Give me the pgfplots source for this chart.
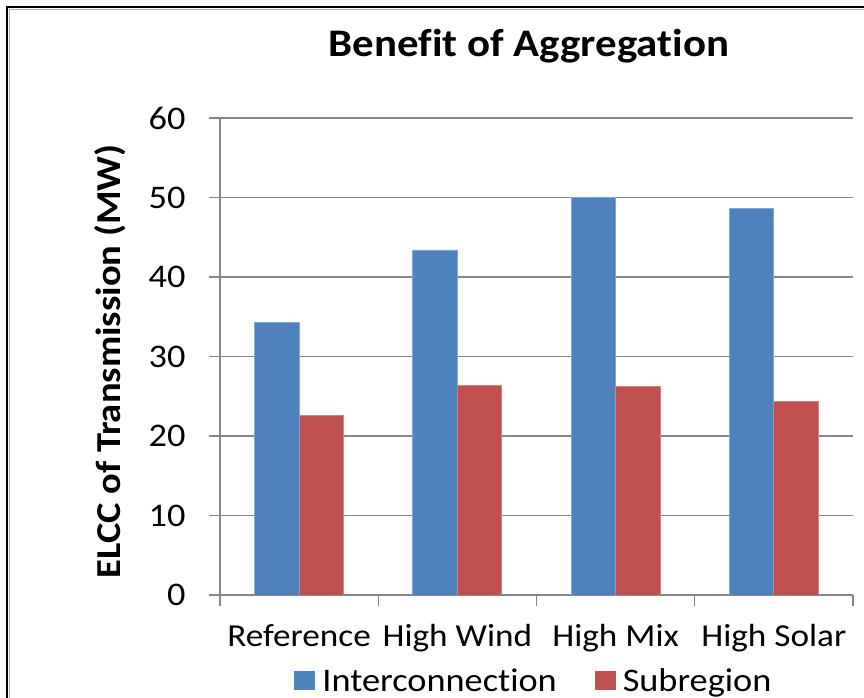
\documentclass[border=0pt]{standalone}
\usepackage{fontspec}
\setmainfont{Carlito}[Ligatures=NoCommon, FakeStretch=1.1]
\usepackage{pgfplots}
\pgfplotsset{compat=1.18}
\definecolor{ser1}{HTML}{4F81BD}
\definecolor{ser2}{HTML}{C0504D}
\definecolor{gridc}{HTML}{868686}
\begin{document}
\begin{tikzpicture}
\useasboundingbox (0,0) rectangle (864bp,698bp);
\fill[white] (0,0) rectangle (864bp,698bp);
\draw[black, line width=2bp] (7bp,-50bp) rectangle (950bp,691bp);
\draw[black!30, line width=1.5bp] (9.5bp,-50bp) rectangle (950bp,688.5bp);
\node[font=\fontsize{39bp}{47bp}\selectfont\bfseries, anchor=base] at (529bp,641bp) {Benefit of Aggregation};
\node[rotate=90, anchor=base, font=\fontsize{35bp}{42bp}\selectfont\bfseries] at (120bp,336.5bp) {ELCC of Transmission (MW)};
\begin{axis}[
  at={(220bp,103bp)}, anchor=south west,
  scale only axis, width=633bp, height=477bp,
  ymin=0, ymax=60, ytick={0,10,...,60},
  xmin=-0.5, xmax=3.5,
  xtick={-0.5,0.5,1.5,2.5,3.5}, xticklabels={},
  extra x ticks={0,1,2,3},
  extra x tick labels={Reference,High Wind,High Mix,High Solar},
  extra x tick style={major tick length=0pt, xticklabel style={yshift=-26bp}},
  axis x line*=bottom, axis y line*=left,
  ymajorgrids, grid style={gridc, line width=1.2bp},
  axis line style={gridc, line width=1.2bp},
  tick style={gridc, line width=1.2bp},
  major tick length=11bp, tick align=outside,
  tick label style={font=\fontsize{32bp}{38bp}\selectfont},
  yticklabel style={font=\fontsize{33bp}{38bp}\selectfont, xshift=-20bp},
  /pgf/number format/assume math mode=true,
  ybar=0pt, bar width=44.5bp,
  legend style={at={(0.496,-0.18)}, anchor=center, draw=none, fill=none,
    font=\fontsize{33bp}{38bp}\selectfont, legend columns=2,
    /tikz/every odd column/.append style={column sep=5bp},
    /tikz/every even column/.append style={column sep=36bp}},
  legend image code/.code={\draw[#1, draw=none] (0bp,-9.5bp) rectangle (21bp,9.5bp);},
]
\addplot[fill=ser1, draw=ser1!70!white, line width=0.8bp] coordinates {(0,34.3) (1,43.4) (2,50.0) (3,48.65)};
\addplot[fill=ser2, draw=ser2!70!white, line width=0.8bp] coordinates {(0,22.6) (1,26.4) (2,26.25) (3,24.4)};
\legend{Interconnection, Subregion}
\end{axis}
\end{tikzpicture}
\end{document}
